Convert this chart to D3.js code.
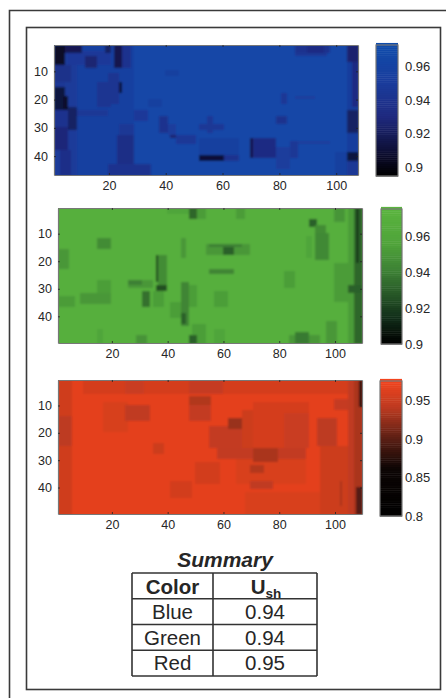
<!DOCTYPE html>
<html>
<head>
<meta charset="utf-8">
<script src="https://cdn.jsdelivr.net/npm/d3@7"></script>
<style>
  body { margin: 0; background: #fff; }
  svg { display: block; }
  text { font-family: "Liberation Sans", Arial, sans-serif; fill: #262626; }
  .tick text { font-size: 12.5px; }
  .bar .tick text { font-size: 13px; }
</style>
</head>
<body>
<div id="chart"></div>
<script>
var width = 446,
  height = 698;

var xTicks = [20, 40, 60, 80, 100];
var yTicks = [10, 20, 30, 40];

// every patch is [first col, first row, cols, rows, value]
var blueBase = 0.966;
var bluePatches = [
  [104, 1, 4, 46, 0.952], [1, 1, 28, 46, 0.956], [1, 1, 8, 46, 0.948], [6, 3, 15, 5, 0.947],
  [1, 1, 4, 7, 0.905], [5, 1, 6, 3, 0.917], [1, 8, 6, 6, 0.937], [1, 14, 4, 2, 0.945],
  [1, 16, 4, 8, 0.912], [4, 19, 2, 5, 0.906], [1, 24, 5, 6, 0.94], [6, 23, 3, 8, 0.922],
  [1, 30, 5, 8, 0.928], [3, 38, 4, 9, 0.936], [12, 5, 4, 4, 0.926], [16, 14, 5, 9, 0.942],
  [20, 11, 4, 11, 0.942], [22, 1, 3, 8, 0.916], [25, 1, 3, 8, 0.94], [19, 1, 2, 3, 0.922],
  [24, 14, 1, 4, 0.91], [9, 24, 11, 2, 0.945], [23, 33, 6, 10, 0.934], [24, 29, 5, 4, 0.945],
  [20, 43, 15, 4, 0.94], [29, 24, 5, 4, 0.947], [38, 26, 3, 6, 0.94], [41, 29, 3, 4, 0.95],
  [42, 33, 2, 1, 0.925], [44, 33, 7, 3, 0.946], [34, 20, 5, 3, 0.955], [52, 34, 14, 6, 0.955],
  [52, 40, 9, 2, 0.91], [61, 40, 5, 2, 0.94], [70, 34, 9, 7, 0.932], [70, 34, 1, 7, 0.915],
  [79, 37, 5, 8, 0.95], [84, 35, 3, 6, 0.945], [87, 35, 11, 1, 0.95], [86, 1, 12, 3, 0.94],
  [90, 1, 6, 3, 0.932], [86, 4, 11, 1, 0.945], [104, 1, 4, 6, 0.925], [106, 7, 2, 16, 0.932],
  [104, 24, 4, 8, 0.922], [104, 39, 4, 3, 0.912], [103, 42, 5, 5, 0.945], [100, 39, 4, 8, 0.955],
  [79, 26, 4, 3, 0.94], [81, 18, 2, 4, 0.945], [86, 19, 7, 1, 0.95], [55, 26, 2, 6, 0.945],
  [52, 29, 9, 2, 0.945], [40, 10, 5, 2, 0.955]
];

var greenBase = 0.969;
var greenPatches = [
  [105, 1, 2, 49, 0.952], [107, 1, 3, 49, 0.932], [108, 1, 1, 20, 0.918], [100, 1, 4, 5, 0.949],
  [91, 5, 3, 3, 0.93], [93, 7, 4, 3, 0.945], [93, 10, 5, 10, 0.944], [90, 11, 2, 8, 0.957],
  [100, 21, 6, 14, 0.952], [105, 29, 5, 3, 0.93], [40, 1, 8, 2, 0.957], [48, 1, 3, 4, 0.932],
  [51, 1, 3, 4, 0.952], [65, 1, 3, 4, 0.952], [15, 12, 5, 4, 0.945], [1, 16, 4, 7, 0.95],
  [54, 14, 16, 4, 0.95], [55, 14, 12, 1, 0.94], [60, 15, 4, 3, 0.93], [55, 23, 9, 2, 0.942],
  [37, 18, 3, 12, 0.945], [36, 18, 1, 10, 0.918], [36, 29, 4, 2, 0.925], [26, 27, 9, 3, 0.95],
  [26, 27, 5, 2, 0.94], [15, 27, 5, 5, 0.953], [31, 31, 3, 6, 0.935], [35, 31, 4, 6, 0.953],
  [47, 29, 4, 8, 0.953], [45, 28, 3, 16, 0.942], [41, 35, 4, 6, 0.953], [45, 39, 2, 4, 0.93],
  [1, 33, 6, 4, 0.952], [9, 32, 11, 4, 0.95], [57, 31, 5, 6, 0.953], [49, 43, 5, 7, 0.953],
  [48, 47, 3, 3, 0.93], [29, 47, 4, 3, 0.948], [57, 45, 4, 5, 0.957], [84, 47, 11, 3, 0.95],
  [86, 46, 5, 4, 0.938], [97, 42, 4, 8, 0.95], [82, 24, 4, 6, 0.953], [15, 45, 2, 5, 0.957],
  [45, 12, 2, 7, 0.95]
];

var redBase = 0.966;
var redPatches = [
  [1, 1, 5, 49, 0.952], [1, 14, 5, 11, 0.94], [10, 1, 97, 5, 0.955], [48, 1, 12, 5, 0.945],
  [25, 1, 7, 5, 0.948], [71, 9, 20, 17, 0.955], [82, 13, 9, 13, 0.948], [17, 9, 9, 11, 0.957],
  [25, 10, 9, 6, 0.942], [48, 7, 8, 9, 0.944], [48, 7, 8, 3, 0.935], [55, 18, 12, 8, 0.944],
  [67, 12, 4, 14, 0.95], [62, 15, 5, 4, 0.925], [65, 29, 25, 10, 0.958], [58, 26, 32, 4, 0.943],
  [71, 26, 9, 5, 0.932], [94, 15, 7, 10, 0.94], [100, 8, 5, 4, 0.945], [95, 25, 12, 25, 0.95],
  [102, 38, 1, 9, 0.932], [50, 31, 9, 8, 0.954], [70, 32, 5, 3, 0.936], [70, 38, 8, 3, 0.942],
  [68, 42, 27, 8, 0.958], [41, 38, 8, 6, 0.954], [35, 24, 4, 4, 0.95], [105, 1, 2, 49, 0.942],
  [107, 1, 3, 49, 0.932], [109, 1, 1, 10, 0.875], [108, 40, 2, 10, 0.895]
];

var blueBarTicks = [0.9, 0.92, 0.94, 0.96];
var greenBarTicks = [0.9, 0.92, 0.94, 0.96];
var redBarTicks = [0.8, 0.85, 0.9, 0.95];

var panels = [
  {
    base: blueBase, patches: bluePatches, cols: 107, rows: 46,
    box: { x: 54, y: 45, w: 304, h: 130 },
    bar: { x: 376, y: 45, w: 22, h: 131, pad: 7 },
    barDomain: [0.895, 0.9725], barTicks: blueBarTicks,
    stops: [0.895, 0.905, 0.93, 0.95, 0.9725],
    colors: ["#000000", "#0a0a26", "#1f2a80", "#1a3c9c", "#0f4cab"]
  },
  {
    base: greenBase, patches: greenPatches, cols: 109, rows: 49,
    box: { x: 58, y: 208, w: 304, h: 135 },
    bar: { x: 381, y: 209, w: 21, h: 135, pad: 3 },
    barDomain: [0.9, 0.975], barTicks: greenBarTicks,
    stops: [0.9, 0.915, 0.94, 0.955, 0.975],
    colors: ["#000000", "#12301a", "#3c8034", "#4fa33a", "#5ab43e"]
  },
  {
    base: redBase, patches: redPatches, cols: 109, rows: 49,
    box: { x: 58, y: 380, w: 304, h: 134 },
    bar: { x: 380, y: 381, w: 22, h: 135, pad: 3 },
    barDomain: [0.8, 0.975], barTicks: redBarTicks,
    stops: [0.8, 0.86, 0.9, 0.94, 0.975],
    colors: ["#000000", "#0c0504", "#5c1f14", "#bd3a20", "#f2441e"]
  }
];

var tableHeader = ["Color", "U"];
var tableColors = ["Blue", "Green", "Red"];
var tableValues = ["0.94", "0.94", "0.95"];

var svg = d3
  .select("#chart")
  .append("svg")
  .attr("width", width)
  .attr("height", height);

var defs = svg.append("defs");
defs
  .append("filter")
  .attr("id", "soft")
  .attr("x", "-2%")
  .attr("y", "-2%")
  .attr("width", "104%")
  .attr("height", "104%")
  .append("feGaussianBlur")
  .attr("stdDeviation", 0.9);

// page frame: two open lines and the inner box
var frame = svg.append("g").attr("fill", "none").attr("stroke", "#3a3a3a").attr("stroke-width", 1.6);
frame.append("path").attr("d", "M9.5,698V10.5H446");
frame.append("rect").attr("x", 26.5).attr("y", 27.5).attr("width", 414).attr("height", 662);

function drawPanel(p, index) {
  var color = d3.scaleLinear().domain(p.stops).range(p.colors).clamp(true);

  // fill the grid, later patches on top
  var matrix = d3.range(p.rows).map(function() {
    return d3.range(p.cols).map(function() {
      return p.base;
    });
  });
  p.patches.forEach(function(d) {
    for (var r = d[1] - 1; r < d[1] - 1 + d[3] && r < p.rows; r++) {
      for (var c = d[0] - 1; c < d[0] - 1 + d[2] && c < p.cols; c++) {
        matrix[r][c] = d[4];
      }
    }
  });
  var cells = [];
  matrix.forEach(function(row, r) {
    row.forEach(function(v, c) {
      cells.push({ col: c + 1, row: r + 1, value: v });
    });
  });

  var x = d3.scaleBand().domain(d3.range(1, p.cols + 1)).range([p.box.x, p.box.x + p.box.w]);
  var y = d3.scaleBand().domain(d3.range(1, p.rows + 1)).range([p.box.y, p.box.y + p.box.h]);

  var clipId = "clip" + index;
  defs
    .append("clipPath")
    .attr("id", clipId)
    .append("rect")
    .attr("x", p.box.x)
    .attr("y", p.box.y)
    .attr("width", p.box.w)
    .attr("height", p.box.h);

  var heat = svg
    .append("g")
    .attr("clip-path", "url(#" + clipId + ")")
    .append("g")
    .attr("filter", "url(#soft)");
  heat
    .append("rect")
    .attr("x", p.box.x - 4)
    .attr("y", p.box.y - 4)
    .attr("width", p.box.w + 8)
    .attr("height", p.box.h + 8)
    .attr("fill", color(p.base));
  heat
    .selectAll("rect.cell")
    .data(cells)
    .enter()
    .append("rect")
    .attr("class", "cell")
    .attr("x", d => x(d.col))
    .attr("y", d => y(d.row))
    .attr("width", x.bandwidth() + 0.6)
    .attr("height", y.bandwidth() + 0.6)
    .attr("shape-rendering", "crispEdges")
    .attr("fill", d => color(d.value));

  // box axes, labelled bottom and left, ticks pointing in on all sides
  function style(g) {
    g.select(".domain").attr("stroke", "#777").attr("stroke-width", 1.2);
    g.selectAll(".tick line").attr("stroke", "#222").attr("stroke-width", 0.8);
    g.selectAll(".tick text").attr("stroke", "none");
  }
  svg
    .append("g")
    .attr("transform", "translate(0," + (p.box.y + p.box.h) + ")")
    .call(d3.axisBottom(x).tickValues(xTicks).tickSizeInner(-2).tickSizeOuter(0).tickPadding(6))
    .call(style);
  svg
    .append("g")
    .attr("transform", "translate(0," + p.box.y + ")")
    .call(d3.axisTop(x).tickValues(xTicks).tickSizeInner(-2).tickSizeOuter(0).tickFormat(""))
    .call(style);
  svg
    .append("g")
    .attr("transform", "translate(" + p.box.x + ",0)")
    .call(d3.axisLeft(y).tickValues(yTicks).tickSizeInner(-2).tickSizeOuter(0).tickPadding(6))
    .call(style);
  svg
    .append("g")
    .attr("transform", "translate(" + (p.box.x + p.box.w) + ",0)")
    .call(d3.axisRight(y).tickValues(yTicks).tickSizeInner(-2).tickSizeOuter(0).tickFormat(""))
    .call(style);

  // colorbar
  var barY = d3.scaleLinear().domain(p.barDomain).range([p.bar.y + p.bar.h, p.bar.y]);
  var levels = d3.range(0, 64).map(function(i) {
    return p.barDomain[0] + ((p.barDomain[1] - p.barDomain[0]) * i) / 63;
  });
  var step = p.bar.h / levels.length;
  svg
    .append("g")
    .selectAll("rect")
    .data(levels)
    .enter()
    .append("rect")
    .attr("x", p.bar.x)
    .attr("y", d => barY(d) - step)
    .attr("width", p.bar.w)
    .attr("height", step + 0.5)
    .attr("fill", d => color(d));
  svg
    .append("rect")
    .attr("x", p.bar.x)
    .attr("y", p.bar.y)
    .attr("width", p.bar.w)
    .attr("height", p.bar.h)
    .attr("fill", "none")
    .attr("stroke", "#777")
    .attr("stroke-width", 1.2);
  svg
    .append("g")
    .attr("class", "bar")
    .attr("transform", "translate(" + (p.bar.x + p.bar.w) + ",0)")
    .call(
      d3
        .axisRight(barY)
        .tickValues(p.barTicks)
        .tickSize(0)
        .tickPadding(p.bar.pad)
        .tickFormat(d3.format("~g"))
    )
    .call(g => g.select(".domain").remove());
}

panels.forEach(drawPanel);

// summary table
var colX = [132, 213, 317];
var rowY = d3
  .scaleBand()
  .domain(d3.range(tableColors.length + 1))
  .range([573, 676]);

var table = svg.append("g");
table
  .append("text")
  .attr("x", 225)
  .attr("y", 567)
  .attr("text-anchor", "middle")
  .style("font-size", "21px")
  .style("font-weight", "bold")
  .style("font-style", "italic")
  .text("Summary");

var grid = table.append("g").attr("stroke", "#333").attr("stroke-width", 1.6);
d3.range(tableColors.length + 2).forEach(function(i) {
  var ly = 573 + rowY.bandwidth() * i;
  grid.append("line").attr("x1", colX[0]).attr("x2", colX[2]).attr("y1", ly).attr("y2", ly);
});
colX.forEach(function(cx) {
  grid.append("line").attr("x1", cx).attr("x2", cx).attr("y1", 573).attr("y2", 676);
});

var headerBase = rowY(0) + 21;
table
  .append("text")
  .attr("x", (colX[0] + colX[1]) / 2)
  .attr("y", headerBase)
  .attr("text-anchor", "middle")
  .style("font-size", "20.5px")
  .style("font-weight", "bold")
  .text(tableHeader[0]);

var ush = table
  .append("text")
  .attr("x", (colX[1] + colX[2]) / 2 + 1)
  .attr("y", headerBase)
  .attr("text-anchor", "middle")
  .style("font-size", "20.5px")
  .style("font-weight", "bold");
ush.append("tspan").text(tableHeader[1]);
ush.append("tspan").attr("dy", 4).style("font-size", "13.5px").text("sh");

tableColors.forEach(function(name, i) {
  var base = rowY(i + 1) + 20;
  table
    .append("text")
    .attr("x", (colX[0] + colX[1]) / 2)
    .attr("y", base)
    .attr("text-anchor", "middle")
    .style("font-size", "20.5px")
    .text(name);
  table
    .append("text")
    .attr("x", (colX[1] + colX[2]) / 2)
    .attr("y", base)
    .attr("text-anchor", "middle")
    .style("font-size", "20.5px")
    .text(tableValues[i]);
});
</script>
</body>
</html>
